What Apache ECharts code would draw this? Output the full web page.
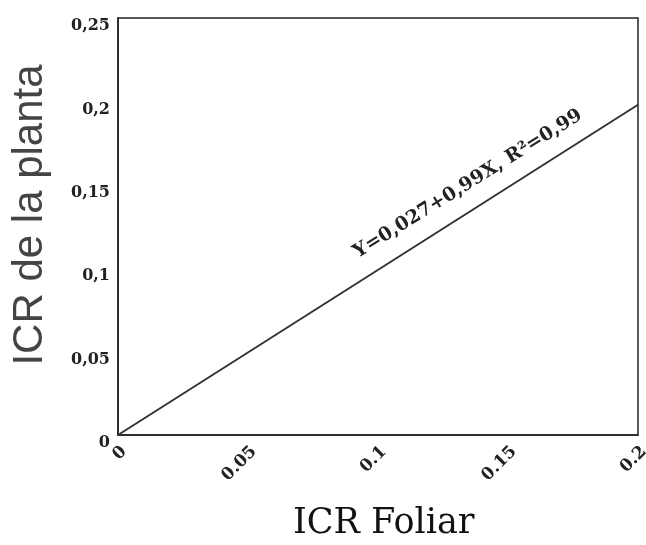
<!DOCTYPE html>
<html>
<head>
<meta charset="utf-8">
<script src="https://cdn.jsdelivr.net/npm/echarts@6/dist/echarts.min.js"></script>
<style>html,body{margin:0;padding:0;background:#fff}#c{width:646px;height:545px}</style>
</head>
<body>
<div id="c"></div>
<script>
var xTicks = ['0', '0.05', '0.1', '0.15', '0.2'];
var yTicks = ['0', '0,05', '0,1', '0,15', '0,2', '0,25'];
var fitX = [0, 0.2];
var fitY = [0, 0.198];
var equation = 'Y=0,027+0,99X, R²=0,99';
var xTitle = 'ICR Foliar';
var yTitle = 'ICR de la planta';

var chart = echarts.init(document.getElementById('c'));
var gridL = 118, gridT = 18, gridR = 8, gridB = 110;
chart.setOption({
  backgroundColor: '#ffffff',
  animation: false,
  grid: {left: gridL, top: gridT, right: gridR, bottom: gridB, containLabel: false, outerBoundsMode: 'none',
         show: true, borderColor: '#222', borderWidth: 1.5, backgroundColor: 'transparent'},
  xAxis: {
    type: 'value', min: 0, max: 0.2, interval: 0.05,
    axisLine: {show: true, lineStyle: {color: '#222', width: 1.5}},
    axisTick: {show: false}, splitLine: {show: false},
    axisLabel: {
      rotate: 45, margin: 8, color: '#222', fontFamily: 'DejaVu Serif', fontWeight: 'bold', fontSize: 17,
      verticalAlign: 'top', hideOverlap: false,
      formatter: function (v) { var i = Math.round(v / 0.05); return xTicks[i]; }
    }
  },
  yAxis: {
    type: 'value', min: 0, max: 0.25, interval: 0.05,
    axisLine: {show: true, lineStyle: {color: '#222', width: 1.5}},
    axisTick: {show: false}, splitLine: {show: false},
    axisLabel: {
      margin: 8, color: '#222', fontFamily: 'DejaVu Serif', fontWeight: 'bold', fontSize: 16,
      verticalAlign: 'top',
      formatter: function (v) { var i = Math.round(v / 0.05); return yTicks[i]; }
    }
  },
  series: [{
    type: 'line', data: fitX.map(function (x, i) { return [x, fitY[i]]; }),
    showSymbol: false, lineStyle: {color: '#333', width: 2}
  }],
  graphic: [
    {type: 'text', left: 293, top: 506, style: {text: xTitle, font: '35px "DejaVu Serif"', fill: '#111'}},
    {type: 'text', x: 30, y: 215, rotation: Math.PI / 2, style: {text: yTitle, font: '42px "Liberation Sans"', fill: '#444', align: 'center', verticalAlign: 'middle'}},
    {type: 'text', x: 468, y: 184, rotation: 0.556, style: {text: equation, font: 'bold 19px "DejaVu Serif"', fill: '#222', align: 'center', verticalAlign: 'middle'}}
  ]
});
</script>
</body>
</html>
